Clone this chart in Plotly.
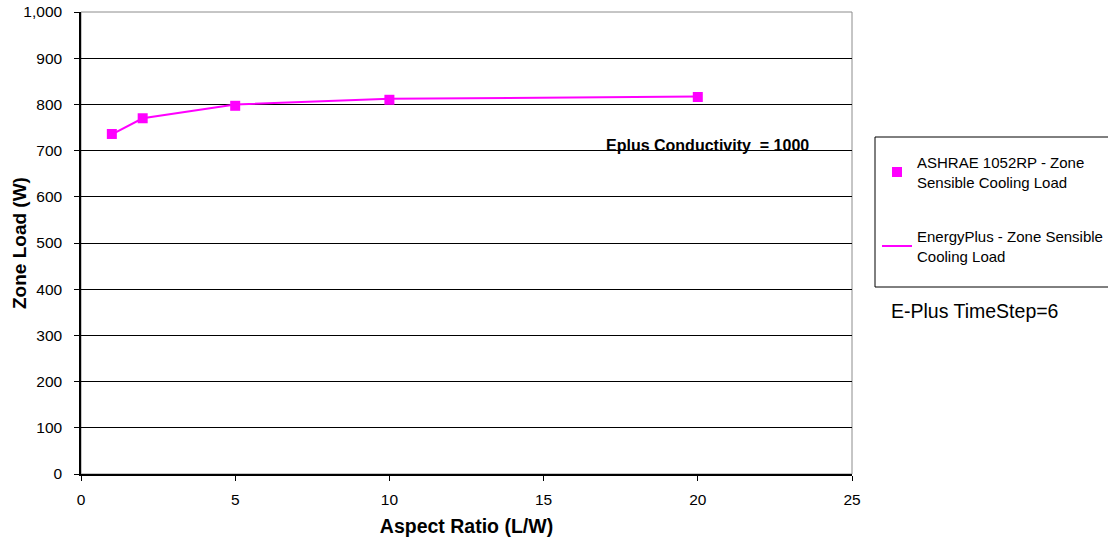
import plotly.graph_objects as go

# Aspect ratio (L/W) and zone sensible cooling load (W)
aspect_ratio = [1, 2, 5, 10, 20]
ashrae_load = [736, 770, 797, 810, 816]
eplus_load = [735, 770, 800, 812, 817]

y_ticks = [0, 100, 200, 300, 400, 500, 600, 700, 800, 900, 1000]
x_ticks = [0, 5, 10, 15, 20, 25]

MAGENTA = "#FF00FF"
FONT = "Liberation Sans, Arial, sans-serif"

W, H = 1108, 542
ML, MR, MT, MB = 81, 256, 12, 68
PW, PH = W - ML - MR, H - MT - MB


def px_x(px):
    """Convert a pixel column to paper x."""
    return (px - ML) / PW


def px_y(py):
    """Convert a pixel row (from top) to paper y."""
    return (H - MB - py) / PH


fig = go.Figure()

fig.add_trace(go.Scatter(
    x=aspect_ratio, y=eplus_load, mode="lines",
    line=dict(color=MAGENTA, width=2),
    name="EnergyPlus - Zone Sensible<br>Cooling Load",
    legendgroup="b", legendrank=2,
))
fig.add_trace(go.Scatter(
    x=aspect_ratio, y=ashrae_load, mode="markers",
    marker=dict(color=MAGENTA, symbol="square", size=10),
    name="ASHRAE 1052RP - Zone<br>Sensible Cooling Load",
    legendgroup="a", legendrank=1,
))

fig.add_annotation(
    x=20.3, y=712, xref="x", yref="y",
    text="<b>Eplus Conductivity  = 1000</b>",
    showarrow=False, font=dict(family=FONT, size=16, color="#000"),
)
fig.add_annotation(
    x=px_x(889), y=px_y(311), xref="paper", yref="paper",
    text="E-Plus TimeStep=6", showarrow=False,
    xanchor="left", yanchor="middle",
    font=dict(family=FONT, size=19.5, color="#000"),
)
# y-axis title
fig.add_annotation(
    x=px_x(19), y=0.5, xref="paper", yref="paper",
    text="<b>Zone Load (W)</b>", textangle=-90, showarrow=False,
    xanchor="center", yanchor="middle",
    font=dict(family=FONT, size=19, color="#000"),
)

# gray frame around plot area
fig.add_shape(type="rect", xref="paper", yref="paper", x0=0, x1=1, y0=0, y1=1,
              line=dict(color="#8c8c8c", width=1), layer="below")

# legend frame
fig.add_shape(type="rect", xref="paper", yref="paper",
              x0=px_x(875), x1=px_x(1130), y0=px_y(287), y1=px_y(137),
              line=dict(color="#000", width=1))

TICK_FONT = dict(family=FONT, size=15.5, color="#000")

fig.update_layout(
    width=W, height=H,
    margin=dict(l=ML, r=MR, t=MT, b=MB, autoexpand=False),
    paper_bgcolor="white", plot_bgcolor="white",
    font=dict(family=FONT, size=15.5, color="#000"),
    showlegend=True,
    legend=dict(
        x=px_x(877), y=px_y(146), xref="paper", yref="paper",
        xanchor="left", yanchor="top",
        bgcolor="rgba(0,0,0,0)", borderwidth=0,
        font=dict(family=FONT, size=15, color="#000"),
        tracegroupgap=32, traceorder="grouped",
    ),
    xaxis=dict(
        range=[0, 25], tickvals=x_ticks, showgrid=False,
        showline=True, linecolor="#000", linewidth=1.5,
        ticks="outside", ticklen=5, tickcolor="#000",
        ticklabelstandoff=6, tickfont=TICK_FONT,
        title=dict(text="<b>Aspect Ratio (L/W)</b>", font=dict(size=19.5), standoff=12),
        zeroline=False,
    ),
    yaxis=dict(
        range=[0, 1000], tickvals=y_ticks, tickformat=",d",
        showgrid=True, gridcolor="#000", gridwidth=1,
        showline=True, linecolor="#000", linewidth=1.5,
        ticks="outside", ticklen=5, tickcolor="#000",
        ticklabelstandoff=9, tickfont=TICK_FONT,
        zeroline=False,
    ),
)

fig.write_html("out.html")
